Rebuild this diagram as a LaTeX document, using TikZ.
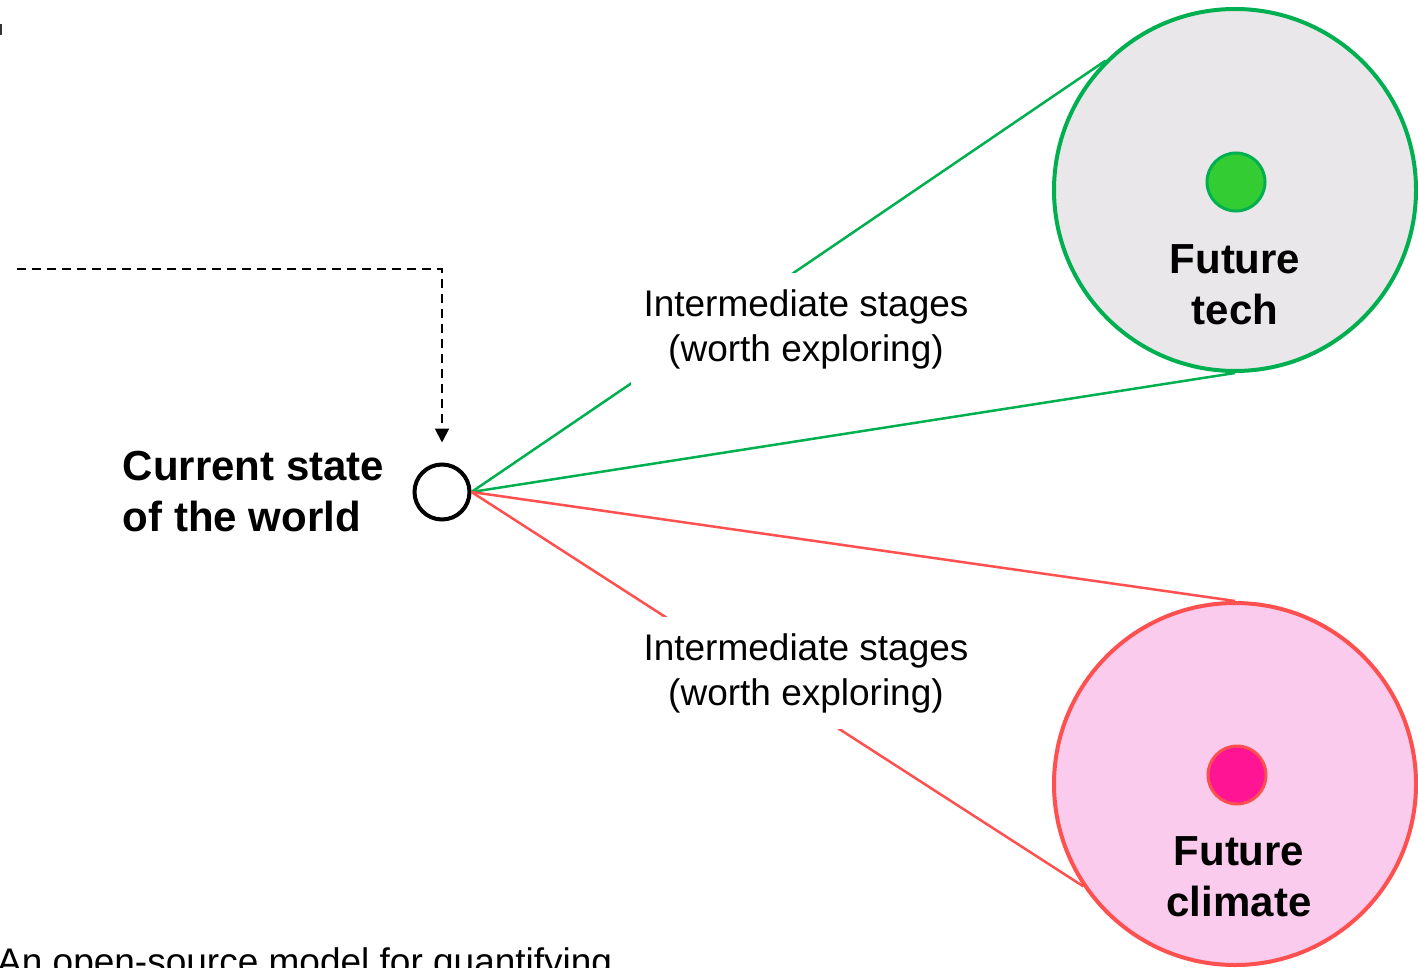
\documentclass[tikz,border=0pt]{standalone}
\usepackage{fontspec}
\setmainfont{Liberation Sans}
\usetikzlibrary{positioning,arrows.meta}

\definecolor{techgreen}{HTML}{00B050}
\definecolor{techfill}{HTML}{E9E7E9}
\definecolor{dotgreen}{HTML}{33CC33}
\definecolor{climred}{HTML}{FF5050}
\definecolor{climfill}{HTML}{FACBEC}
\definecolor{dotpink}{HTML}{FF1493}

\begin{document}
\begin{tikzpicture}[x=1pt,y=-1pt,
  state/.style={circle, draw, line width=4pt, minimum size=55pt, inner sep=0pt},
  future/.style={circle, line width=4pt, minimum size=362pt, inner sep=0pt},
  target/.style={circle, line width=3pt, minimum size=58pt, inner sep=0pt},
  bigtext/.style={font=\fontsize{42}{51}\selectfont\bfseries, align=center, inner sep=0pt},
  stagelbl/.style={fill=white, font=\fontsize{37}{45}\selectfont, align=center,
    minimum width=350pt, minimum height=112pt, inner sep=0pt},
  branch/.style={line width=2.5pt}]

  \useasboundingbox (0,0) rectangle (1418,968);

  % Define nodes
  \node[state]                          (now)      at (442,492) {};
  \node[bigtext, align=left, left=28pt of now] (nowlbl) {Current state\\of the world};
  \node[future, draw=techgreen, fill=techfill] (tech) at (1235,190) {};
  \node[target, draw=techgreen, fill=dotgreen] (techdot) at (1236,182) {};
  \node[bigtext]                        (techlbl)  at (1235,285) {Future\\tech};
  \node[future, draw=climred, fill=climfill]  (clim) at (1235,784) {};
  \node[target, draw=climred, fill=dotpink]   (climdot) at (1237,775) {};
  \node[bigtext]                        (climlbl)  at (1239,877) {Future\\climate};
  \coordinate (feed) at (17,269);
  \coordinate (edgemark) at (1.2,24);

  % Connect the nodes
  \draw[line width=2pt, dash pattern=on 9pt off 6pt,
    -{Triangle[width=14pt,length=14pt]}, shorten >=20pt] (feed) -| (now);
  \draw[branch, techgreen] (now.east) -- (tech.135);
  \draw[branch, techgreen] (now.east) -- (tech.south);
  \draw[branch, climred] (now.east) -- (clim.north);
  \draw[branch, climred] (now.east) -- (clim.214);
  \draw[line width=2.5pt, black!80] (edgemark) -- ++(0,11);

  % Stage labels
  \node[stagelbl] (techmid) at (806,329) {Intermediate stages\\(worth exploring)};
  \node[stagelbl] (climmid) at (806,673) {Intermediate stages\\(worth exploring)};
  \node[font=\fontsize{37}{45}\selectfont, anchor=base west, inner sep=0pt]
    (caption) at (-3,974) {An open-source model for quantifying};

\end{tikzpicture}
\end{document}
